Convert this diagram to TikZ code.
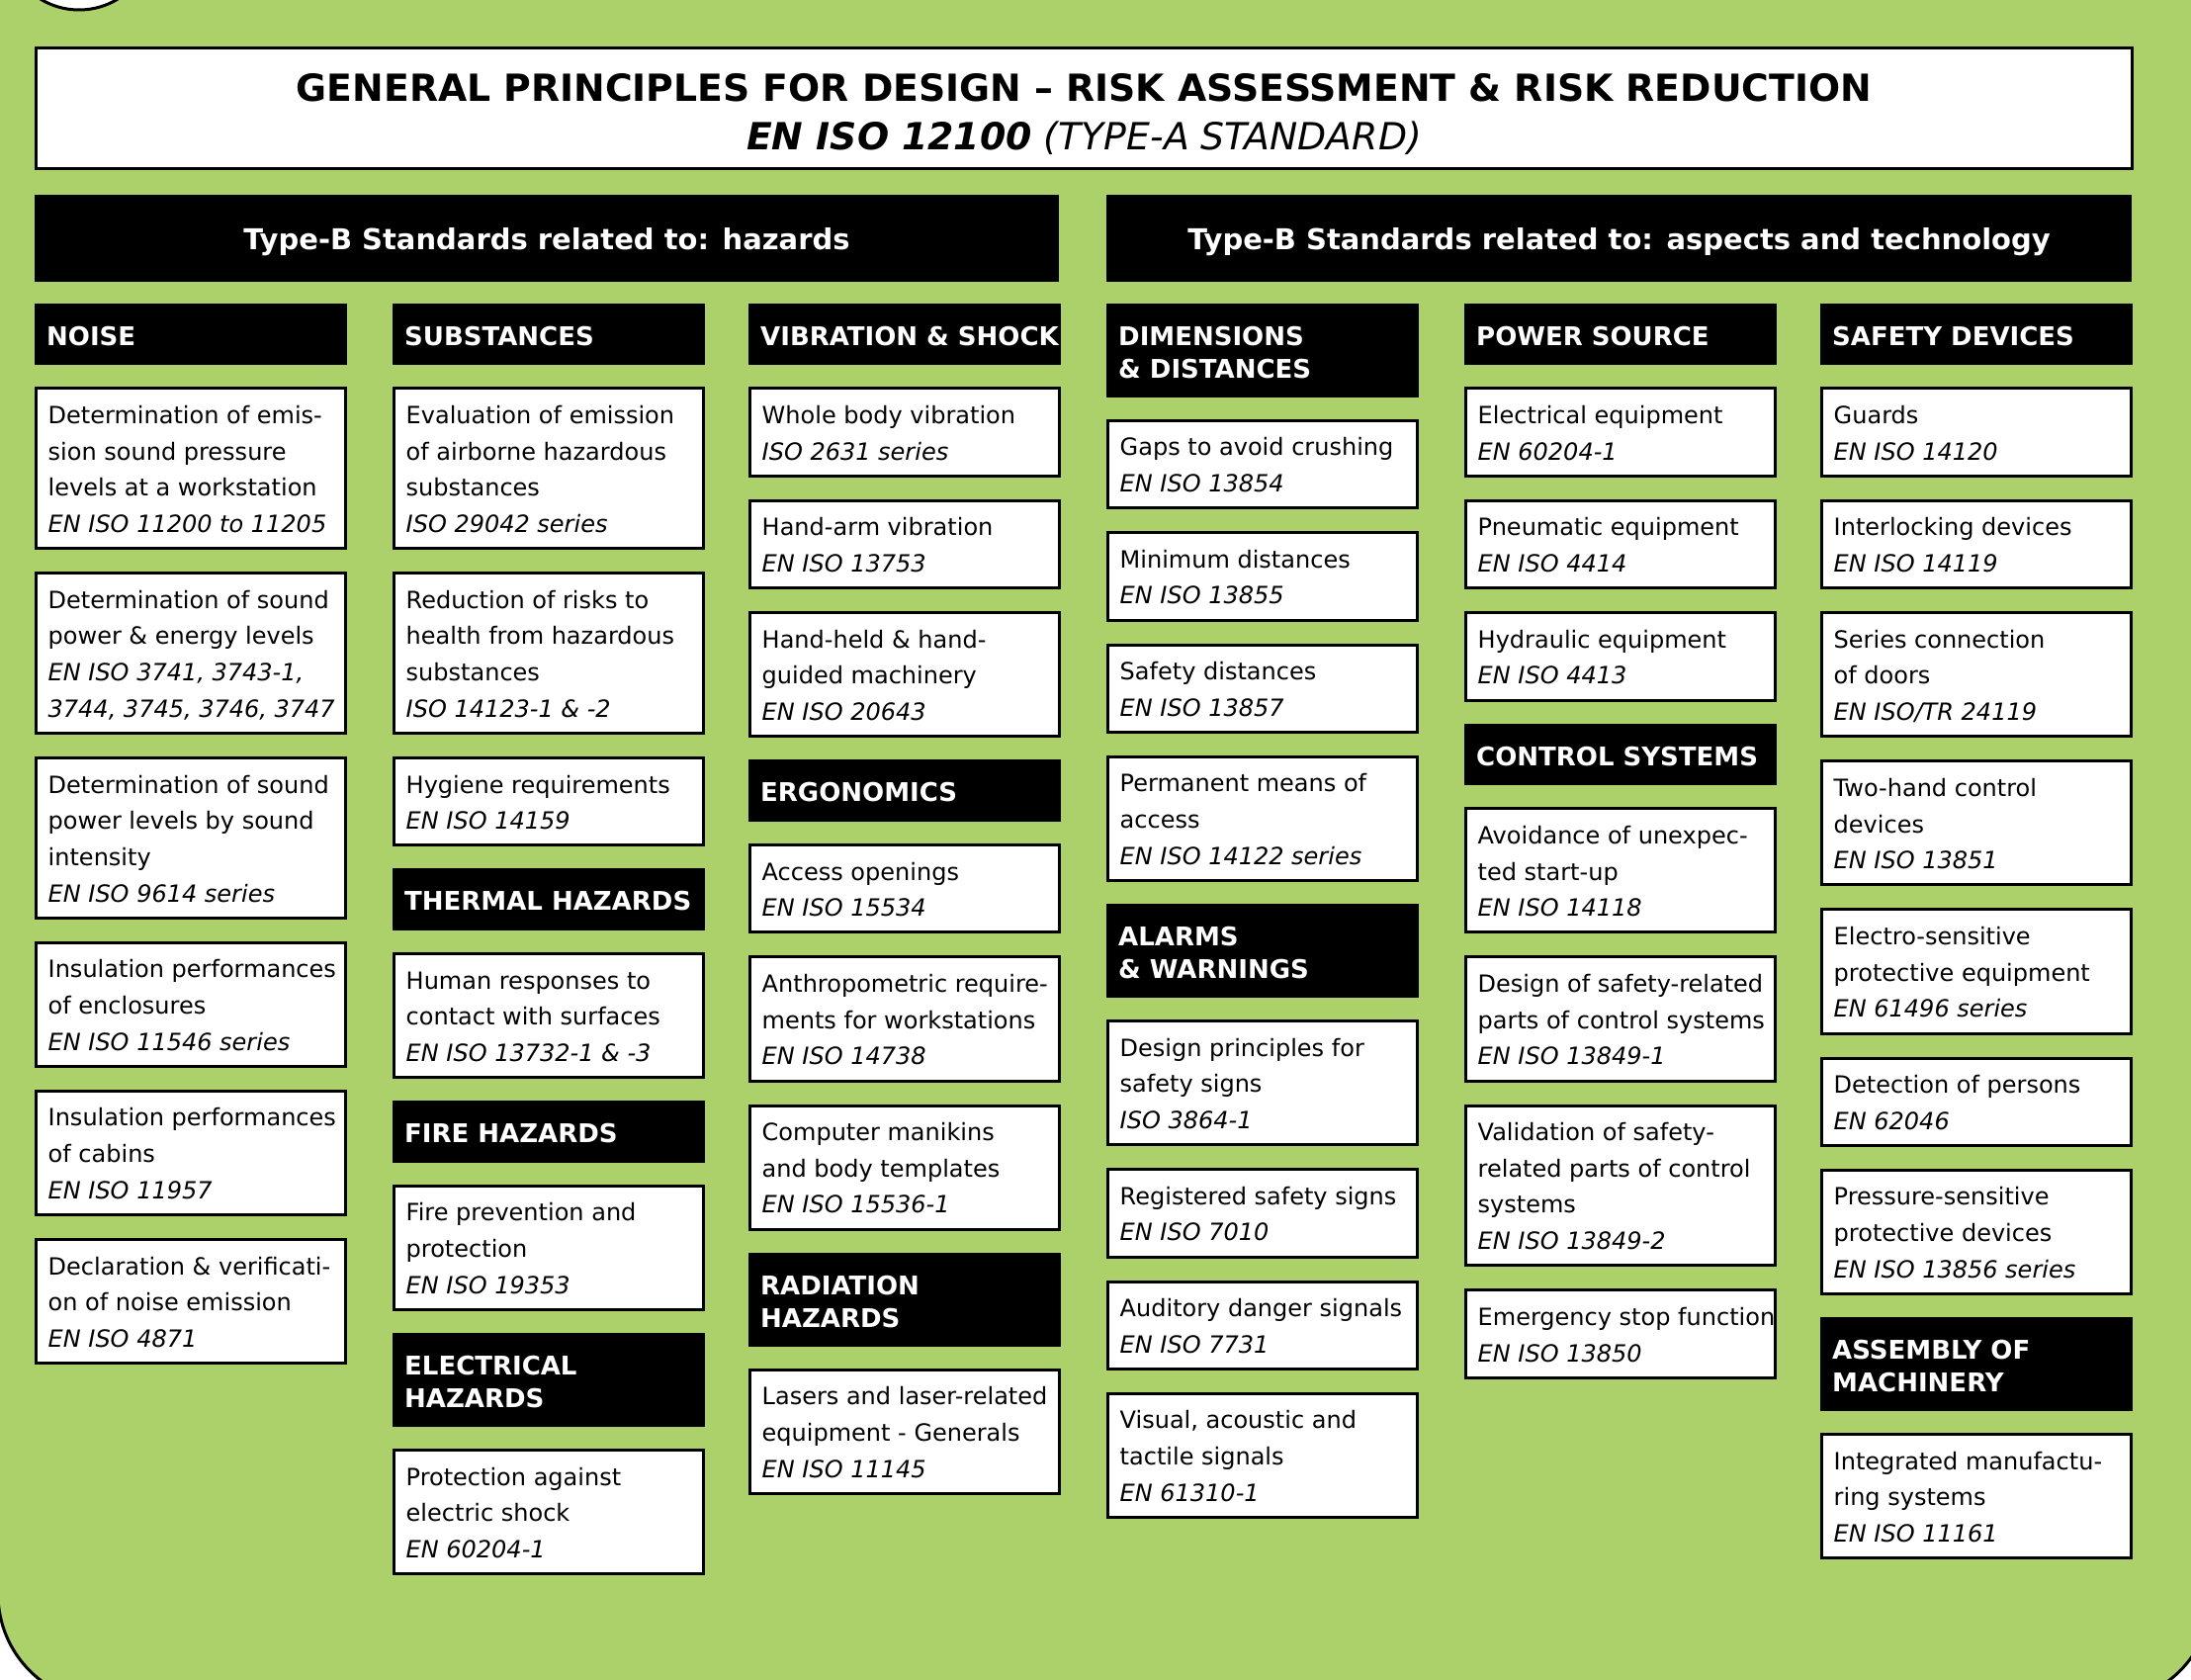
\documentclass[tikz,border=0pt]{standalone}
\usepackage{fontspec}
\setmainfont{DejaVu Sans}
\definecolor{bggreen}{RGB}{173,209,106}
\tikzset{
  wbox/.style={draw=black, line width=3pt, fill=white, inner sep=0pt, outer sep=0pt, anchor=north west, minimum width=313pt},
  hbox/.style={fill=black, draw=none, inner sep=0pt, outer sep=0pt, anchor=north west, minimum width=316pt},
  wtxt/.style={inner sep=0pt, anchor=base west, font=\fontsize{24}{36.7}\selectfont},
  htxt/.style={inner sep=0pt, anchor=base west, text=white, font=\bfseries\fontsize{26}{33}\selectfont},
  bigtxt/.style={inner sep=0pt, anchor=base},
}
\newcommand\mystart[1]{\xdef\mycolx{#1}\xdef\mycury{306.7}}
\newcommand\stdb[3]{%
  \pgfmathsetmacro\myboxh{18+36.7*#2}%
  \pgfmathsetmacro\myinh{\myboxh-3}%
  \node[wbox, minimum height=\myinh pt] (#1) at (\mycolx+1.5,\mycury+1.5) {};
  \node[wtxt] (#1-t) at ([xshift=12pt,yshift=-35.5pt]#1.north west) {\begin{tabular}[t]{@{}l@{}}#3\end{tabular}};
  \pgfmathparse{\mycury+\myboxh+22}\xdef\mycury{\pgfmathresult}}
\newcommand\headb[3]{%
  \ifnum#2=1 \def\myboxh{62.7}\else\def\myboxh{95}\fi
  \node[hbox, minimum height=\myboxh pt] (#1) at (\mycolx,\mycury) {};
  \node[htxt] (#1-t) at ([xshift=12pt,yshift=-42.5pt]#1.north west) {\begin{tabular}[t]{@{}l@{}}#3\end{tabular}};
  \pgfmathparse{\mycury+\myboxh+22}\xdef\mycury{\pgfmathresult}}
\begin{document}
\begin{tikzpicture}[x=1pt,y=-1pt]
\useasboundingbox (0,0) rectangle (2216,1699);
\clip (0,0) rectangle (2216,1699);
\draw[line width=3pt, fill=bggreen, rounded corners=110pt] (-2,-300) rectangle (2237,1722);
\node[circle, draw=black, line width=3pt, fill=white, minimum size=150pt, inner sep=0pt] (logo) at (80,-65) {};

% title
\node[wbox, minimum width=2120pt, minimum height=122pt] (title) at (36.5,48.5) {};
\node[bigtxt, font=\bfseries\fontsize{37.8}{40}\selectfont] (title-a) at ([yshift=-54pt]title.north) {GENERAL PRINCIPLES FOR DESIGN \textendash{} RISK ASSESSMENT \& RISK REDUCTION};
\node[bigtxt, font=\itshape\fontsize{37.8}{40}\selectfont] (title-b) at ([yshift=-103pt]title.north) {\textbf{EN ISO 12100} (TYPE-A STANDARD)};

% type-B headers
\node[hbox, minimum width=1036pt, minimum height=88pt] (thz) at (35,197) {};
\node[bigtxt, text=white, font=\bfseries\fontsize{29}{32}\selectfont] (thz-t) at ([yshift=-55pt]thz.north) {Type-B Standards related to: hazards};
\node[hbox, minimum width=1037pt, minimum height=88pt] (tat) at (1119,197) {};
\node[bigtxt, text=white, font=\bfseries\fontsize{29}{32}\selectfont] (tat-t) at ([yshift=-55pt]tat.north) {Type-B Standards related to: aspects and technology};

% column 1
\mystart{35}
\headb{noise}{1}{NOISE}
\stdb{n1}{4}{Determination of emis-\\sion sound pressure\\levels at a workstation\\\textit{EN ISO 11200 to 11205}}
\stdb{n2}{4}{Determination of sound\\power \& energy levels\\\textit{EN ISO 3741, 3743-1,}\\\textit{3744, 3745, 3746, 3747}}
\stdb{n3}{4}{Determination of sound\\power levels by sound\\intensity\\\textit{EN ISO 9614 series}}
\stdb{n4}{3}{Insulation performances\\of enclosures\\\textit{EN ISO 11546 series}}
\stdb{n5}{3}{Insulation performances\\of cabins\\\textit{EN ISO 11957}}
\stdb{n6}{3}{Declaration \& verificati-\\on of noise emission\\\textit{EN ISO 4871}}

% column 2
\mystart{397}
\headb{subst}{1}{SUBSTANCES}
\stdb{s1}{4}{Evaluation of emission\\of airborne hazardous\\substances\\\textit{ISO 29042 series}}
\stdb{s2}{4}{Reduction of risks to\\health from hazardous\\substances\\\textit{ISO 14123-1 \& -2}}
\stdb{s3}{2}{Hygiene requirements\\\textit{EN ISO 14159}}
\headb{therm}{1}{THERMAL HAZARDS}
\stdb{th1}{3}{Human responses to\\contact with surfaces\\\textit{EN ISO 13732-1 \& -3}}
\headb{fire}{1}{FIRE HAZARDS}
\stdb{f1}{3}{Fire prevention and\\protection\\\textit{EN ISO 19353}}
\headb{elec}{2}{ELECTRICAL\\HAZARDS}
\stdb{e1}{3}{Protection against\\electric shock\\\textit{EN 60204-1}}

% column 3
\mystart{757}
\headb{vib}{1}{VIBRATION \& SHOCK}
\stdb{v1}{2}{Whole body vibration\\\textit{ISO 2631 series}}
\stdb{v2}{2}{Hand-arm vibration\\\textit{EN ISO 13753}}
\stdb{v3}{3}{Hand-held \& hand-\\guided machinery\\\textit{EN ISO 20643}}
\headb{ergo}{1}{ERGONOMICS}
\stdb{g1}{2}{Access openings\\\textit{EN ISO 15534}}
\stdb{g2}{3}{Anthropometric require-\\ments for workstations\\\textit{EN ISO 14738}}
\stdb{g3}{3}{Computer manikins\\and body templates\\\textit{EN ISO 15536-1}}
\headb{rad}{2}{RADIATION\\HAZARDS}
\stdb{r1}{3}{Lasers and laser-related\\equipment - Generals\\\textit{EN ISO 11145}}

% column 4
\mystart{1119}
\headb{dim}{2}{DIMENSIONS\\\& DISTANCES}
\stdb{d1}{2}{Gaps to avoid crushing\\\textit{EN ISO 13854}}
\stdb{d2}{2}{Minimum distances\\\textit{EN ISO 13855}}
\stdb{d3}{2}{Safety distances\\\textit{EN ISO 13857}}
\stdb{d4}{3}{Permanent means of\\access\\\textit{EN ISO 14122 series}}
\headb{alarm}{2}{ALARMS\\\& WARNINGS}
\stdb{a1}{3}{Design principles for\\safety signs\\\textit{ISO 3864-1}}
\stdb{a2}{2}{Registered safety signs\\\textit{EN ISO 7010}}
\stdb{a3}{2}{Auditory danger signals\\\textit{EN ISO 7731}}
\stdb{a4}{3}{Visual, acoustic and\\tactile signals\\\textit{EN 61310-1}}

% column 5
\mystart{1481}
\headb{power}{1}{POWER SOURCE}
\stdb{p1}{2}{Electrical equipment\\\textit{EN 60204-1}}
\stdb{p2}{2}{Pneumatic equipment\\\textit{EN ISO 4414}}
\stdb{p3}{2}{Hydraulic equipment\\\textit{EN ISO 4413}}
\headb{ctrl}{1}{CONTROL SYSTEMS}
\stdb{c1}{3}{Avoidance of unexpec-\\ted start-up\\\textit{EN ISO 14118}}
\stdb{c2}{3}{Design of safety-related\\parts of control systems\\\textit{EN ISO 13849-1}}
\stdb{c3}{4}{Validation of safety-\\related parts of control\\systems\\\textit{EN ISO 13849-2}}
\stdb{c4}{2}{Emergency stop function\\\textit{EN ISO 13850}}

% column 6
\mystart{1841}
\headb{safe}{1}{SAFETY DEVICES}
\stdb{sd1}{2}{Guards\\\textit{EN ISO 14120}}
\stdb{sd2}{2}{Interlocking devices\\\textit{EN ISO 14119}}
\stdb{sd3}{3}{Series connection\\of doors\\\textit{EN ISO/TR 24119}}
\stdb{sd4}{3}{Two-hand control\\devices\\\textit{EN ISO 13851}}
\stdb{sd5}{3}{Electro-sensitive\\protective equipment\\\textit{EN 61496 series}}
\stdb{sd6}{2}{Detection of persons\\\textit{EN 62046}}
\stdb{sd7}{3}{Pressure-sensitive\\protective devices\\\textit{EN ISO 13856 series}}
\headb{assem}{2}{ASSEMBLY OF\\MACHINERY}
\stdb{am1}{3}{Integrated manufactu-\\ring systems\\\textit{EN ISO 11161}}
\end{tikzpicture}
\end{document}
